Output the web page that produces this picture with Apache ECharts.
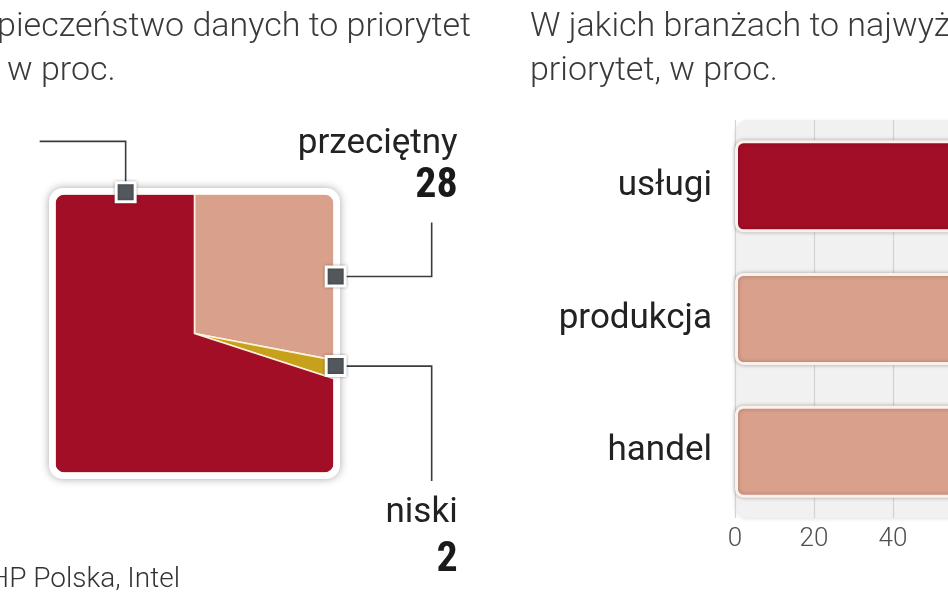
<!DOCTYPE html>
<html><head><meta charset="utf-8">
<script src="https://cdn.jsdelivr.net/npm/echarts@6/dist/echarts.min.js"></script>
<style>html,body{margin:0;padding:0;background:#fff}#c{width:948px;height:593px}</style>
</head><body><div id="c"></div>
<script>
// ---- data ----
const sliceNames = ['przeciętny', 'niski', 'wysoki'];
const sliceValues = [28, 2, 70];
const sectorCategories = ['usługi', 'produkcja', 'handel'];
const sectorValues = [76, 66, 63];
const axisMin = 0, axisMax = 100, axisStep = 20;
const leftTitle = ['Bezpieczeństwo danych to priorytet', 'w proc.'];
const rightTitle = ['W jakich branżach to najwyższy', 'priorytet, w proc.'];
const sourceText = 'Źródło: HP Polska, Intel';

// ---- styles / layout ----
const C = {red:'#a30e27', salmon:'#d9a08b', gold:'#c8a11c', marker:'#53585d', ink:'#222', title:'#3a3a3a', tick:'#505050'};
const sliceColors = [C.salmon, C.gold, C.red];
const barColors = [C.red, C.salmon, C.salmon];
const markerAngles = [68, 103, 334];
const leaderSteps = [[[96,0],[0,-54]], [[96,0],[0,115]], [[0,-51],[-86,0]]];
const labelSpecs = [{dx:26, nameDy:-78, valueDy:-36}, {dx:26, nameDy:32, valueDy:79}, null];
const FONT = 'Roboto, "Noto Sans", sans-serif';
const NARROW = '"Liberation Sans Narrow", "Roboto Condensed", Roboto, sans-serif';

const total = sliceValues.reduce((a,b)=>a+b,0);
function boundary(deg, s){
  const t = deg*Math.PI/180, dx = Math.sin(t), dy = Math.cos(t);
  const k = s/Math.max(Math.abs(dx), Math.abs(dy));
  return [dx*k, dy*k];
}
function slicePoints(i){
  let before = 0; for (let j=0;j<i;j++) before += sliceValues[j];
  const a0 = before/total*360, a1 = (before+sliceValues[i])/total*360;
  const pts = [[0,0], boundary(a0,1)];
  for (let c=45; c<360; c+=90){ if (c>a0 && c<a1) pts.push(boundary(c,1)); }
  pts.push(boundary(a1,1));
  return pts;
}
function txt(x, y, text, font, fill, align){
  return {type:'text', x:x, y:y, style:{text:text, font:font, fill:fill, align:align||'left', textAlign:align||'left', verticalAlign:'middle', textVerticalAlign:'middle'}};
}

const chart = echarts.init(document.getElementById('c'), null, {renderer:'canvas'});
chart.setOption({
  animation:false,
  backgroundColor:'#fff',
  grid:[
    {left:55, top:194, width:279, height:279, outerBoundsMode:'none', containLabel:false},
    {left:735, top:120, width:395, height:398, outerBoundsMode:'none', containLabel:false}
  ],
  xAxis:[
    {gridIndex:0, type:'value', min:-1, max:1, show:false},
    {gridIndex:1, type:'value', min:axisMin, max:axisMax, interval:axisStep,
     axisLine:{show:false}, axisTick:{show:false},
     splitLine:{lineStyle:{color:'#d3d3d3', width:1.2}},
     axisLabel:{color:C.tick, fontSize:26, fontWeight:300, fontFamily:FONT, margin:8}}
  ],
  yAxis:[
    {gridIndex:0, type:'value', min:-1, max:1, show:false},
    {gridIndex:1, type:'category', inverse:true, data:sectorCategories,
     axisLine:{show:false}, axisTick:{show:false}, splitLine:{show:false},
     axisLabel:{color:C.ink, fontSize:35, fontFamily:FONT, margin:23}}
  ],
  graphic:[
    txt(471, 27, leftTitle[0], '300 34px ' + FONT, C.title, 'right'),
    txt(7, 71, leftTitle[1], '300 34px ' + FONT, C.title, 'left'),
    txt(530, 27, rightTitle[0], '300 34px ' + FONT, C.title, 'left'),
    txt(530, 71, rightTitle[1], '300 34px ' + FONT, C.title, 'left'),
    txt(180, 580, sourceText, '300 28px ' + FONT, '#333', 'right')
  ],
  series:[
    { // square background with shadow
      type:'custom', xAxisIndex:0, yAxisIndex:0, z:1, data:[[0,0]], silent:true,
      renderItem:function(params){
        const cs = params.coordSys;
        return {type:'rect', shape:{x:cs.x-6, y:cs.y-6, width:cs.width+12, height:cs.height+12, r:14},
          style:{fill:'#fff', shadowBlur:9, shadowColor:'rgba(0,0,0,0.35)'}};
      }
    },
    { // square "pie" slices
      type:'custom', xAxisIndex:0, yAxisIndex:0, z:2, silent:true,
      data: sliceValues.map((v,i)=>({name:sliceNames[i], value:[0,0,v]})),
      encode:{x:0, y:1},
      renderItem:function(params, api){
        const i = params.dataIndex;
        const pts = slicePoints(i).map(p=>api.coord(p));
        return {type:'polygon', shape:{points:pts},
          style:{fill:sliceColors[i], stroke:'rgba(255,246,225,0.95)', lineWidth:1.6, lineJoin:'round'}};
      }
    },
    { // white rounded frame
      type:'custom', xAxisIndex:0, yAxisIndex:0, z:3, data:[[0,0]], silent:true,
      renderItem:function(params){
        const cs = params.coordSys;
        return {type:'rect', shape:{x:cs.x-2.5, y:cs.y-2.5, width:cs.width+5, height:cs.height+5, r:12},
          style:{fill:null, stroke:'#fff', lineWidth:6}};
      }
    },
    { // markers, leaders, labels
      type:'custom', xAxisIndex:0, yAxisIndex:0, z:4, silent:true,
      data: sliceValues.map((v,i)=>({name:sliceNames[i], value:[0,0,v]})),
      encode:{x:0, y:1},
      renderItem:function(params, api){
        const i = params.dataIndex;
        const p = api.coord(boundary(markerAngles[i], 1.012));
        const pts = [p.slice()]; let cur = p.slice();
        leaderSteps[i].forEach(s=>{ cur = [cur[0]+s[0], cur[1]+s[1]]; pts.push(cur); });
        const children = [
          {type:'polyline', shape:{points:pts}, style:{stroke:'#3c3c3c', lineWidth:1.6, fill:null}},
          {type:'rect', shape:{x:p[0]-9.5, y:p[1]-9.5, width:19, height:19},
           style:{fill:C.marker, stroke:'#fff', lineWidth:3, shadowBlur:3, shadowColor:'rgba(0,0,0,0.35)'}}
        ];
        const L = labelSpecs[i];
        if (L){
          children.push(txt(cur[0]+L.dx, cur[1]+L.nameDy, sliceNames[i], '35px ' + FONT, C.ink, 'right'));
          children.push(txt(cur[0]+L.dx, cur[1]+L.valueDy, String(sliceValues[i]), 'bold 42px ' + NARROW, '#1a1a1a', 'right'));
        }
        return {type:'group', children:children};
      }
    },
    { // grey rounded plot background
      type:'custom', xAxisIndex:1, yAxisIndex:1, z:-1, data:[[0,0]], silent:true,
      renderItem:function(params){
        const cs = params.coordSys;
        return {type:'rect', shape:{x:cs.x, y:cs.y, width:cs.width, height:cs.height, r:14},
          style:{fill:'#f1f1f1', shadowBlur:4, shadowOffsetY:1, shadowColor:'rgba(0,0,0,0.12)'}};
      }
    },
    {
      type:'bar', xAxisIndex:1, yAxisIndex:1, barWidth:92, silent:true,
      data: sectorValues.map((v,i)=>({value:v, itemStyle:{color:barColors[i]}})),
      itemStyle:{borderColor:'#fdf1ec', borderWidth:3, borderRadius:7, shadowBlur:4, shadowColor:'rgba(0,0,0,0.25)'}
    }
  ]
});
</script>
</body></html>
